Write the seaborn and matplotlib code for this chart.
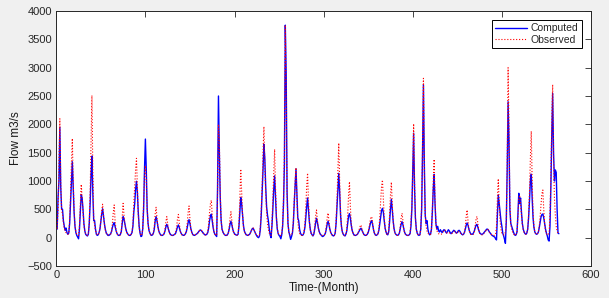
import matplotlib
matplotlib.use("Agg")
import matplotlib.pyplot as plt
import seaborn as sns
import numpy as np
import pandas as pd

computed = [
    150, 700, 1000, 1950, 900, 500, 500, 300, 200, 130, 170, 90,
    60, 80, 250, 600, 950, 1340, 900, 450, 200, 90, 40, 10,
    -20, 150, 450, 760, 700, 500, 250, 120, 60, 40, 30, 60,
    250, 600, 1100, 1440, 800, 300, 300, 150, 60, 40, 50, 90,
    150, 280, 420, 510, 380, 250, 150, 90, 60, 40, 40, 50,
    70, 110, 180, 240, 265, 200, 130, 80, 50, 40, 40, 60,
    110, 250, 371, 330, 240, 160, 100, 70, 50, 40, 40, 60,
    90, 200, 450, 600, 850, 995, 800, 450, 200, 80, 20, 30,
    150, 500, 1200, 1740, 1200, 500, 250, 130, 80, 50, 40, 50,
    80, 150, 300, 371, 300, 200, 120, 80, 50, 40, 40, 50,
    70, 120, 190, 235, 200, 140, 90, 60, 45, 40, 40, 50,
    60, 80, 130, 190, 224, 180, 120, 80, 55, 45, 40, 50,
    70, 110, 180, 270, 318, 250, 160, 100, 60, 45, 40, 50,
    60, 70, 90, 110, 130, 136, 120, 100, 80, 60, 50, 50,
    60, 90, 170, 300, 380, 415, 300, 180, 100, 60, 40, 20,
    900, 2500, 1500, 700, 300, 150, 100, 70, 50, 40, 40, 50,
    80, 150, 240, 290, 230, 150, 100, 70, 55, 45, 45, 60,
    200, 450, 710, 600, 400, 220, 120, 80, 55, 45, 40, 50,
    60, 90, 130, 160, 166, 130, 90, 60, 30, 10, 0, 30,
    150, 400, 800, 1200, 1650, 1400, 900, 550, 400, 300, 150, 50,
    0, 200, 500, 850, 1090, 700, 350, 150, 70, 40, 20, -20,
    50, 200, 600, 1300, 3750, 2870, 800, 250, 100, 40, -30, 20,
    80, 250, 600, 900, 1215, 800, 350, 300, 150, 80, 50, 40,
    50, 90, 180, 350, 550, 700, 500, 280, 150, 80, 50, 30,
    60, 150, 260, 342, 270, 180, 110, 70, 50, 30, 20, 30,
    50, 80, 150, 240, 290, 230, 150, 90, 60, 40, 30, 40,
    80, 250, 550, 850, 1136, 800, 400, 200, 100, 60, 40, 30,
    60, 120, 250, 380, 425, 350, 220, 130, 80, 50, 40, 40,
    50, 60, 90, 120, 150, 166, 130, 90, 60, 45, 40, 45,
    60, 90, 150, 220, 280, 300, 230, 140, 80, 50, 40, 50,
    70, 130, 250, 380, 480, 518, 450, 300, 170, 100, 60, 50,
    100, 280, 500, 677, 500, 300, 160, 90, 60, 45, 40, 50,
    80, 160, 240, 282, 230, 150, 90, 60, 45, 40, 40, 50,
    70, 200, 500, 1200, 1845, 900, 350, 150, 80, 50, 40, 50,
    150, 500, 1500, 2700, 1300, 400, 250, 300, 150, 80, 50, 60,
    150, 450, 850, 1115, 600, 250, 150, 200, 120, 100, 140, 110,
    90, 120, 140, 130, 100, 80, 110, 140, 120, 90, 70, 90,
    110, 130, 120, 100, 80, 90, 120, 130, 110, 80, 60, 50,
    60, 90, 150, 220, 260, 220, 150, 100, 70, 60, 60, 80,
    110, 170, 220, 235, 190, 130, 90, 70, 60, 60, 70, 90,
    110, 130, 150, 150, 130, 100, 80, 60, 40, 30, 20, 10,
    -20, -40, 400, 753, 600, 430, 300, 200, 80, 30, -30, -100,
    300, 1200, 2400, 1700, 500, 250, 200, 150, 100, 60, 40, 50,
    100, 400, 783, 600, 700, 450, 250, 150, 100, 70, 60, 80,
    150, 350, 650, 1000, 1120, 700, 350, 180, 100, 70, 60, 70,
    100, 180, 280, 370, 410, 418, 350, 250, 150, 80, 30, -40,
    -60, 200, 900, 1800, 2548, 1500, 1000, 1195, 1150, 500, 80, 70,
]

observed = [
    160, 500, 1300, 2100, 1000, 480, 420, 260, 160, 110, 90, 80,
    60, 70, 300, 750, 1300, 1750, 1000, 480, 210, 100, 60, 40,
    40, 200, 600, 940, 700, 450, 230, 110, 70, 50, 40, 60,
    250, 800, 1700, 2510, 1200, 350, 220, 130, 70, 50, 50, 80,
    150, 300, 470, 590, 400, 240, 140, 80, 60, 50, 50, 50,
    60, 100, 250, 450, 577, 300, 140, 80, 50, 40, 40, 50,
    120, 350, 605, 400, 230, 140, 90, 60, 50, 40, 40, 60,
    100, 250, 600, 900, 1200, 1400, 900, 400, 180, 80, 40, 40,
    150, 600, 1100, 1270, 1000, 500, 250, 130, 80, 50, 40, 50,
    80, 200, 420, 536, 350, 200, 110, 70, 50, 40, 40, 50,
    70, 150, 280, 371, 250, 130, 80, 55, 45, 40, 40, 50,
    60, 90, 180, 330, 410, 260, 120, 70, 50, 40, 40, 50,
    70, 130, 260, 450, 559, 330, 150, 90, 55, 45, 40, 50,
    55, 65, 85, 110, 130, 140, 125, 100, 75, 55, 45, 50,
    60, 110, 250, 450, 600, 660, 400, 200, 100, 60, 50, 40,
    800, 2000, 1700, 800, 300, 150, 100, 70, 50, 40, 40, 50,
    80, 180, 350, 459, 300, 150, 90, 60, 50, 45, 45, 60,
    250, 700, 1210, 800, 420, 200, 110, 70, 50, 40, 40, 50,
    60, 90, 130, 160, 170, 135, 90, 60, 40, 30, 30, 40,
    200, 500, 900, 1500, 1959, 1300, 800, 450, 250, 150, 80, 50,
    40, 250, 700, 1200, 1560, 900, 400, 170, 80, 50, 40, 40,
    60, 250, 700, 1500, 3750, 2500, 700, 250, 100, 50, 40, 50,
    90, 300, 650, 1000, 1235, 700, 300, 150, 80, 50, 40, 40,
    50, 100, 250, 550, 900, 1140, 650, 300, 140, 70, 50, 40,
    70, 200, 380, 489, 300, 170, 100, 60, 50, 40, 40, 40,
    50, 90, 200, 350, 435, 280, 140, 80, 55, 40, 40, 40,
    80, 300, 700, 1200, 1670, 1000, 450, 200, 100, 60, 40, 40,
    60, 150, 400, 750, 988, 550, 250, 130, 80, 50, 40, 40,
    50, 60, 100, 150, 200, 224, 150, 90, 60, 45, 40, 45,
    60, 100, 180, 280, 350, 371, 250, 140, 80, 50, 40, 50,
    70, 150, 350, 650, 900, 1018, 700, 350, 170, 90, 60, 50,
    120, 400, 750, 980, 600, 300, 150, 80, 55, 45, 40, 50,
    80, 200, 350, 430, 300, 150, 80, 55, 45, 40, 40, 50,
    80, 300, 550, 1100, 2010, 1000, 350, 150, 80, 50, 40, 50,
    150, 600, 1600, 2812, 1200, 400, 200, 120, 80, 60, 50, 60,
    150, 500, 1000, 1383, 700, 250, 130, 90, 70, 60, 60, 60,
    80, 100, 120, 136, 110, 85, 80, 90, 85, 75, 70, 75,
    80, 100, 115, 100, 80, 80, 100, 110, 90, 70, 60, 55,
    60, 100, 200, 380, 489, 300, 150, 90, 60, 50, 50, 60,
    100, 200, 320, 375, 250, 140, 80, 60, 50, 50, 60, 80,
    100, 120, 140, 150, 130, 100, 80, 60, 50, 40, 40, 40,
    60, 200, 700, 1040, 600, 300, 150, 80, 60, 50, 50, 100,
    300, 1300, 3000, 2000, 600, 250, 150, 100, 70, 50, 40, 60,
    100, 350, 700, 750, 600, 400, 230, 140, 90, 70, 60, 80,
    150, 400, 800, 1400, 1880, 1000, 450, 200, 100, 70, 60, 70,
    100, 200, 380, 600, 780, 841, 500, 250, 120, 70, 50, 50,
    80, 400, 1100, 2000, 2700, 1400, 700, 400, 200, 120, 80, 70,
]

x_ticks = [0, 100, 200, 300, 400, 500, 600]
y_ticks = [-500, 0, 500, 1000, 1500, 2000, 2500, 3000, 3500, 4000]

months = np.arange(1, len(computed) + 1)
df = pd.DataFrame({"Month": months, "Computed": computed, "Observed": observed})

sns.set_style("white")
plt.rcParams["font.family"] = ["Liberation Sans", "DejaVu Sans"]

fig = plt.figure(figsize=(6.09, 2.98), dpi=100, facecolor="#f0f0f0")
ax = fig.add_axes([0.0924, 0.1074, 0.8780, 0.8557])
ax.set_facecolor("white")

sns.lineplot(data=df, x="Month", y="Computed", ax=ax, color="#0000ff",
             lw=1.0, label="Computed", zorder=2)
sns.lineplot(data=df, x="Month", y="Observed", ax=ax, color="#ff0000",
             lw=0.8, linestyle=":", label="Observed", zorder=3)

ax.set_xlim(0, 600)
ax.set_ylim(-500, 4000)
ax.set_xticks(x_ticks)
ax.set_yticks(y_ticks)
ax.tick_params(direction="in", top=True, right=True, length=4, width=0.6,
               labelsize=8, colors="#262626", pad=3)
for s in ax.spines.values():
    s.set_linewidth(0.7)
    s.set_color("#262626")
    s.set_visible(True)

ax.set_xlabel("Time-(Month)", fontsize=8.5, labelpad=1, color="#1a1a1a")
ax.set_ylabel("Flow m3/s", fontsize=8.5, labelpad=4, color="#1a1a1a")

leg = ax.legend(loc="upper right", fontsize=7.5, frameon=True, fancybox=False,
                edgecolor="black", framealpha=1, handlelength=3.0,
                borderpad=0.3, labelspacing=0.1, borderaxespad=0.9,
                handletextpad=0.4)
leg.get_frame().set_linewidth(0.7)

fig.savefig("out.png", dpi=100, facecolor=fig.get_facecolor())
